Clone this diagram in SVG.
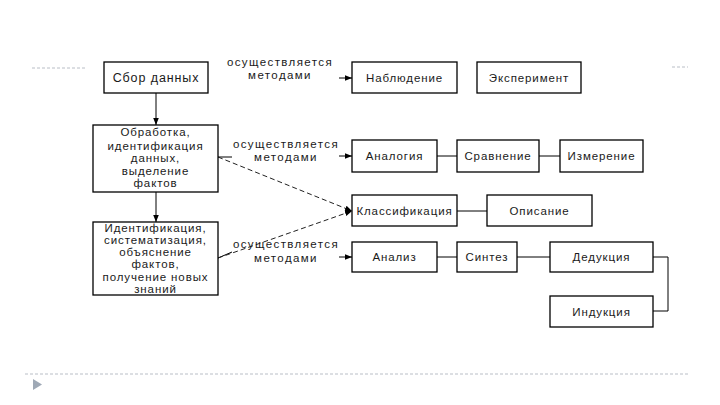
<svg xmlns="http://www.w3.org/2000/svg" width="720" height="405" viewBox="0 0 720 405">
<defs>
<marker id="ah" viewBox="0 0 10 10" refX="10" refY="5" markerWidth="7" markerHeight="7" markerUnits="userSpaceOnUse" orient="auto">
<path d="M0,1 L10,5 L0,9 z" fill="#000"/>
</marker>
<style>
.box{fill:#fff;stroke:#000;stroke-width:1.3}
.t{font-family:"Liberation Sans",Arial,sans-serif;font-size:11.5px;fill:#1a1a1a;text-anchor:middle;letter-spacing:0.9px}
.lb{letter-spacing:1.4px}
.ln{stroke:#000;stroke-width:1;fill:none}
.dash{stroke:#222;stroke-width:1;fill:none;stroke-dasharray:5,3}
.deco{stroke:#b9bec6;stroke-width:1;fill:none;stroke-dasharray:3,2}
</style>
</defs>
<rect width="720" height="405" fill="#fff"/>
<g id="decor">
<line class="deco" x1="32" y1="68" x2="86" y2="68"/>
<line class="deco" x1="672" y1="67" x2="688" y2="67"/>
<line class="deco" x1="25" y1="374" x2="690" y2="374"/>
<polygon points="33,379 42,384.5 33,390" fill="#9fa9b6"/>
</g>
<g id="connectors">
<line class="ln" x1="156" y1="93" x2="156" y2="125" marker-end="url(#ah)"/>
<line class="ln" x1="156" y1="192" x2="156" y2="222" marker-end="url(#ah)"/>
<line class="ln" x1="339" y1="78" x2="352" y2="78" marker-end="url(#ah)"/>
<line class="ln" x1="339" y1="156" x2="352" y2="156" marker-end="url(#ah)"/>
<line class="ln" x1="339" y1="257" x2="352" y2="257" marker-end="url(#ah)"/>
<line class="ln" x1="218" y1="157" x2="232" y2="157"/>
<line class="ln" x1="218" y1="258" x2="232" y2="252"/>
<line class="dash" x1="218" y1="157" x2="352" y2="211" marker-end="url(#ah)"/>
<line class="dash" x1="218" y1="258" x2="352" y2="211" marker-end="url(#ah)"/>
<line class="ln" x1="437" y1="156" x2="457" y2="156"/>
<line class="ln" x1="539" y1="156" x2="560" y2="156"/>
<line class="ln" x1="457" y1="211" x2="487" y2="211"/>
<line class="ln" x1="437" y1="257" x2="457" y2="257"/>
<line class="ln" x1="517" y1="257" x2="550" y2="257"/>
<polyline class="ln" points="653,257 668,257 668,311 653,311"/>
</g>
<g id="labels">
<text class="t lb" x="280" y="66">осуществляется</text>
<text class="t lb" x="280" y="79">методами</text>
<text class="t lb" x="286" y="148">осуществляется</text>
<text class="t lb" x="286" y="161">методами</text>
<text class="t lb" x="286" y="248">осуществляется</text>
<text class="t lb" x="286" y="262">методами</text>
</g>
<g id="n-sbor"><rect class="box" x="104" y="62" width="104" height="31"/><text class="t" x="156" y="82" style="font-size:12.5px">Сбор данных</text></g>
<g id="n-obrabotka"><rect class="box" x="93" y="125" width="125" height="67"/>
<text class="t" x="155.5" y="136">Обработка,</text>
<text class="t" x="155.5" y="150">идентификация</text>
<text class="t" x="155.5" y="162">данных,</text>
<text class="t" x="155.5" y="175">выделение</text>
<text class="t" x="155.5" y="187">фактов</text>
</g>
<g id="n-ident"><rect class="box" x="93" y="222" width="125" height="73"/>
<text class="t" x="155.5" y="232">Идентификация,</text>
<text class="t" x="155.5" y="244">систематизация,</text>
<text class="t" x="155.5" y="256">объяснение</text>
<text class="t" x="155.5" y="268">фактов,</text>
<text class="t" x="155.5" y="281">получение новых</text>
<text class="t" x="155.5" y="293">знаний</text>
</g>
<g id="n-nabl"><rect class="box" x="352" y="62" width="105" height="31"/><text class="t" x="404.5" y="82">Наблюдение</text></g>
<g id="n-eksp"><rect class="box" x="477" y="62" width="104" height="31"/><text class="t" x="529" y="82">Эксперимент</text></g>
<g id="n-analog"><rect class="box" x="352" y="140" width="85" height="32"/><text class="t" x="394.5" y="160">Аналогия</text></g>
<g id="n-sravn"><rect class="box" x="457" y="140" width="82" height="32"/><text class="t" x="498" y="160">Сравнение</text></g>
<g id="n-izmer"><rect class="box" x="560" y="140" width="83" height="32"/><text class="t" x="601.5" y="160">Измерение</text></g>
<g id="n-klass"><rect class="box" x="352" y="195" width="105" height="31"/><text class="t" x="404.5" y="215">Классификация</text></g>
<g id="n-opis"><rect class="box" x="487" y="195" width="105" height="31"/><text class="t" x="539.5" y="215">Описание</text></g>
<g id="n-analiz"><rect class="box" x="352" y="242" width="85" height="30"/><text class="t" x="394.5" y="261">Анализ</text></g>
<g id="n-sintez"><rect class="box" x="457" y="242" width="60" height="30"/><text class="t" x="487" y="261">Синтез</text></g>
<g id="n-deduk"><rect class="box" x="550" y="242" width="103" height="30"/><text class="t" x="601.5" y="261">Дедукция</text></g>
<g id="n-induk"><rect class="box" x="550" y="296" width="103" height="31"/><text class="t" x="601.5" y="316">Индукция</text></g>
</svg>
